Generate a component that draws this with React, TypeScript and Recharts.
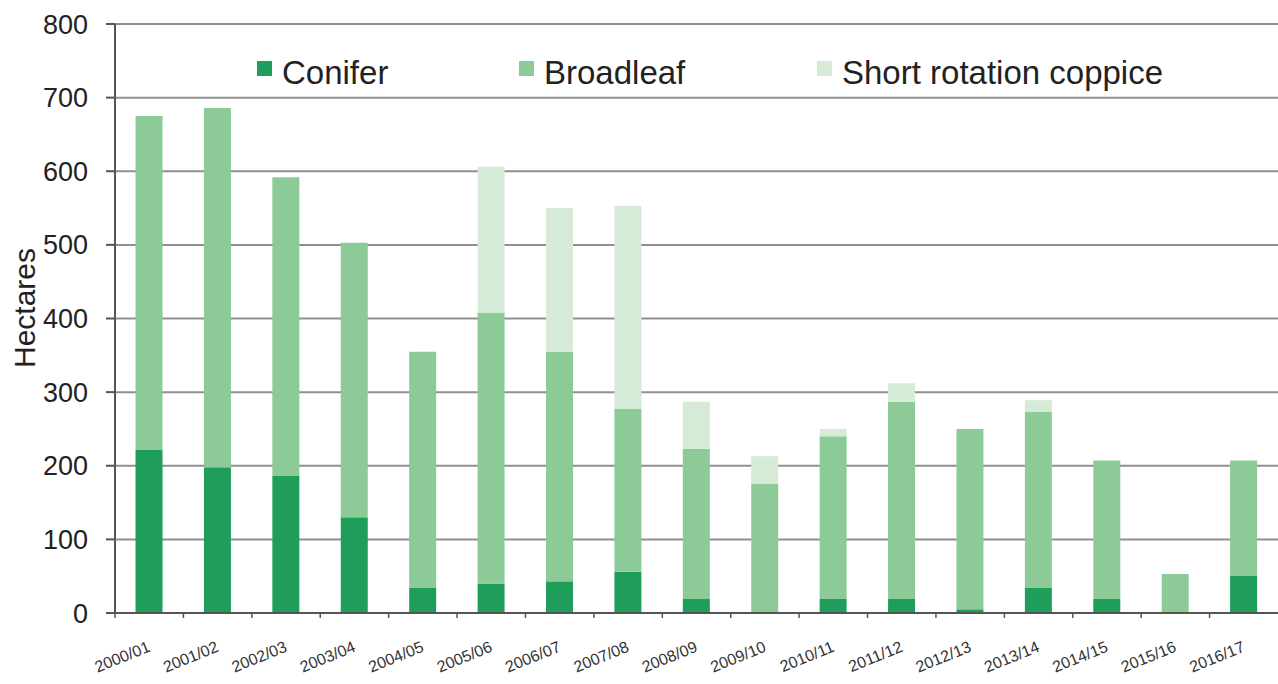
import { BarChart, Bar, XAxis, YAxis, CartesianGrid } from 'recharts'

const seasons = [
  '2000/01', '2001/02', '2002/03', '2003/04', '2004/05', '2005/06', '2006/07', '2007/08', '2008/09',
  '2009/10', '2010/11', '2011/12', '2012/13', '2013/14', '2014/15', '2015/16', '2016/17',
]
const conifer = [222, 198, 186, 130, 34, 40, 43, 56, 19, 0, 19, 19, 5, 34, 19, 0, 51]
const broadleaf = [453, 488, 406, 373, 321, 368, 312, 221, 204, 176, 221, 268, 245, 239, 188, 53, 156]
const coppice = [0, 0, 0, 0, 0, 198, 195, 276, 64, 37, 10, 25, 0, 16, 0, 0, 0]
const yTicks = [0, 100, 200, 300, 400, 500, 600, 700, 800]

const COLORS = {
  conifer: '#1f9e5b',
  broadleaf: '#8ccb98',
  coppice: '#d5ebd7',
  grid: '#8f8f8f',
  axis: '#555555',
  text: '#222222',
}

const FONT = 'Arial, "Liberation Sans", sans-serif'

const data = seasons.map((season, i) => ({
  season,
  conifer: conifer[i],
  broadleaf: broadleaf[i],
  coppice: coppice[i],
}))

const series = [
  { key: 'conifer', name: 'Conifer', color: COLORS.conifer },
  { key: 'broadleaf', name: 'Broadleaf', color: COLORS.broadleaf },
  { key: 'coppice', name: 'Short rotation coppice', color: COLORS.coppice },
]

const BAND = 1163 / seasons.length

function XTick({ x, y, payload }: any) {
  return (
    <g>
      <line x1={x - BAND / 2} x2={x - BAND / 2} y1={613} y2={618} stroke={COLORS.axis} strokeWidth={1.5} />
      <g transform={`translate(${x + 2},${y + 36})`}>
        <text textAnchor="end" transform="rotate(-22)" fontSize={16} fill="#333" fontFamily={FONT}>
          {payload.value}
        </text>
      </g>
    </g>
  )
}

// legend drawn over the plot, like the original figure
function ChartLegend() {
  const lefts = [257, 519, 817]
  return (
    <div style={{ position: 'absolute', left: 0, top: 0, fontFamily: FONT, fontSize: 33, color: COLORS.text }}>
      {series.map((s, i) => (
        <div key={s.key} style={{ position: 'absolute', left: lefts[i], top: 55, display: 'flex', alignItems: 'flex-start', whiteSpace: 'nowrap' }}>
          <span style={{ display: 'inline-block', width: 15, height: 15, background: s.color, marginTop: 6, marginRight: 10 }} />
          <span style={{ lineHeight: '36px' }}>{s.name}</span>
        </div>
      ))}
    </div>
  )
}

export default function App() {
  return (
    <div style={{ position: 'absolute', left: 0, top: 0, width: 1278, height: 684, background: '#fff' }}>
      <BarChart width={1278} height={684} data={data} margin={{ top: 24, right: 0, left: 0, bottom: 0 }} barCategoryGap="30%">
        <CartesianGrid vertical={false} stroke={COLORS.grid} strokeWidth={2} />
        <XAxis
          dataKey="season"
          height={71}
          interval={0}
          stroke={COLORS.axis}
          strokeWidth={2}
          tickLine={false}
          tickSize={0}
          tick={<XTick />}
        />
        <YAxis
          width={115}
          domain={[0, 800]}
          ticks={yTicks}
          interval={0}
          stroke={COLORS.axis}
          strokeWidth={2}
          tickSize={9}
          tickMargin={18}
          tick={{ fontSize: 27, fill: COLORS.text, fontFamily: FONT }}
          label={{
            content: () => (
              <text x={35} y={308} transform="rotate(-90 35 308)" textAnchor="middle" fontSize={30} fill={COLORS.text} fontFamily={FONT}>
                Hectares
              </text>
            ),
          }}
        />
        {series.map((s) => (
          <Bar key={s.key} dataKey={s.key} name={s.name} stackId="a" fill={s.color} isAnimationActive={false} />
        ))}
      </BarChart>
      <ChartLegend />
    </div>
  )
}
